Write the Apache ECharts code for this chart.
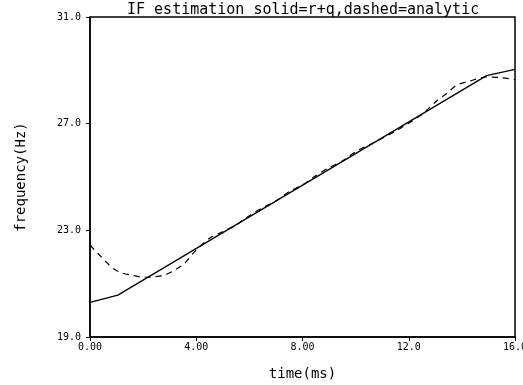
<!DOCTYPE html>
<html>
<head>
<meta charset="utf-8">
<script src="https://cdn.jsdelivr.net/npm/echarts@6/dist/echarts.min.js"></script>
<style>
  html, body { margin: 0; padding: 0; background: #fff; }
  #chart { width: 523px; height: 385px; }
</style>
</head>
<body>
<div id="chart"></div>
<script>
// IF estimate, solid = r+q
const tSolid = [0, 1.05, 14.93, 16];
const fSolid = [20.3, 20.57, 28.8, 29.04];

// IF estimate, dashed = analytic
const tDash = [0, 0.3, 0.6, 0.87, 1.18, 1.56, 2.06, 2.43, 2.81, 3.19, 3.56, 3.94,
  4.5, 5.0, 5.5, 6.0, 6.5, 7.0, 7.5, 8.0, 8.5, 9.0, 9.5, 10.0, 10.5, 11.0, 11.5,
  12.0, 12.5, 13.05, 13.43, 13.8, 14.3, 14.93, 15.44, 16.0];
const fDash = [22.45, 22.13, 21.82, 21.57, 21.41, 21.32, 21.24, 21.26, 21.32, 21.51, 21.76, 22.2,
  22.7, 22.95, 23.2, 23.55, 23.85, 24.1, 24.45, 24.7, 25.05, 25.35, 25.6, 25.95, 26.2, 26.45, 26.72,
  27.02, 27.35, 27.85, 28.13, 28.44, 28.6, 28.75, 28.73, 28.65];

const xTickLabels = ['0.00', '4.00', '8.00', '12.0', '16.0'];
const yTickLabels = ['19.0', '23.0', '27.0', '31.0'];

const mono = 'DejaVu Sans Mono';

function pairs(xs, ys) {
  return xs.map((x, i) => [x, ys[i]]);
}

const myChart = echarts.init(document.getElementById('chart'));
const option = {
  animation: false,
  title: {
    text: 'IF estimation solid=r+q,dashed=analytic',
    left: 122,
    top: -2,
    textStyle: { fontFamily: mono, fontSize: 15, fontWeight: 'normal', color: '#000' },
  },
  grid: {
    left: 90,
    right: 8,
    top: 17,
    bottom: 48,
    outerBoundsMode: 'none',
    containLabel: false,
    show: true,
    borderColor: '#000',
    borderWidth: 1.5,
  },
  xAxis: {
    type: 'value',
    min: 0,
    max: 16,
    interval: 4,
    name: 'time(ms)',
    nameLocation: 'middle',
    nameGap: 30,
    nameTextStyle: { fontFamily: mono, fontSize: 14, color: '#000' },
    axisLine: { show: true, lineStyle: { color: '#000', width: 1.5 } },
    axisTick: { show: true, length: 4, lineStyle: { color: '#000' } },
    splitLine: { show: false },
    axisLabel: {
      fontFamily: mono,
      fontSize: 10,
      color: '#000',
      margin: 5,
      formatter: (v) => xTickLabels[Math.round(v / 4)],
    },
  },
  yAxis: {
    type: 'value',
    min: 19,
    max: 31,
    interval: 4,
    name: 'frequency(Hz)',
    nameLocation: 'middle',
    nameGap: 62,
    nameTextStyle: { fontFamily: mono, fontSize: 14, color: '#000' },
    axisLine: { show: true, lineStyle: { color: '#000', width: 1.5 } },
    axisTick: { show: true, length: 4, lineStyle: { color: '#000' } },
    splitLine: { show: false },
    axisLabel: {
      fontFamily: mono,
      fontSize: 10,
      color: '#000',
      margin: 9,
      formatter: (v) => yTickLabels[Math.round((v - 19) / 4)],
    },
  },
  series: [
    {
      name: 'r+q',
      type: 'line',
      data: pairs(tSolid, fSolid),
      showSymbol: false,
      lineStyle: { color: '#000', width: 1.3 },
    },
    {
      name: 'analytic',
      type: 'line',
      data: pairs(tDash, fDash),
      showSymbol: false,
      smooth: 0.3,
      lineStyle: { color: '#000', width: 1.2, type: [6, 5] },
    },
  ],
};

option && myChart.setOption(option);
</script>
</body>
</html>
